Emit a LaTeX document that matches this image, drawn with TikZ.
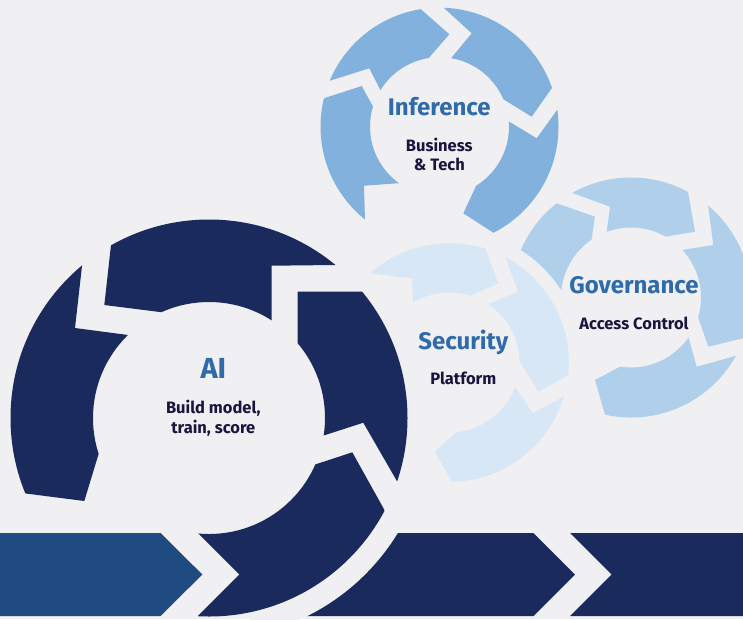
\documentclass[tikz,border=0pt]{standalone}
\usepackage{fontspec}
\setmainfont{Fira Sans}
\usetikzlibrary{calc}
\definecolor{bg}{HTML}{F0F0F2}
\definecolor{navy}{HTML}{1A2A5D}
\definecolor{barblue}{HTML}{204A82}
\definecolor{infcol}{HTML}{81B1DC}
\definecolor{govcol}{HTML}{B0CFEB}
\definecolor{seccol}{HTML}{D7E7F5}
\definecolor{titleblue}{HTML}{2F6BAA}
\definecolor{subcol}{HTML}{1B1440}
\tikzset{
  title/.style={anchor=base, text=titleblue, font=\fontsize{24}{28}\selectfont\bfseries, inner sep=0pt},
  bigtitle/.style={anchor=base, text=titleblue, font=\fontsize{29}{34}\selectfont\bfseries, inner sep=0pt},
  sub/.style={anchor=base, text=subcol, font=\fontsize{16.5}{20}\selectfont\bfseries, inner sep=0pt},
}
% #1 centre, #2 outer A, #3 corner A, #4 inner A, #5 inner B, #6 corner B, #7 outer B
\newcommand\ringseg[7]{%
  \begin{scope}
    \coordinate (rsC) at (#1);
    \clip ($(#3)!1.6!(#2)$) -- (#3) -- ($(#3)!1.5!(#4)$) -- (rsC)
      -- ($(#6)!1.5!(#5)$) -- (#6) -- ($(#6)!1.6!(#7)$)
      -- ($(rsC)!2.2!(#7)$) -- ($(rsC)!2.2!(#2)$) -- cycle;
    \fill[fill=\rscol, even odd rule] (rsC) circle[radius=\rout] (rsC) circle[radius=\rin];
  \end{scope}}
\begin{document}
\begin{tikzpicture}[x=1pt,y=-1pt]
\useasboundingbox (0,0) rectangle (743,619);
\fill[bg] (0,0) rectangle (743,619);
\clip (0,0) rectangle (743,619);

% bottom bars
\fill[barblue] (0,533) -- (160.6,533) -- (202.3,574.5) -- (160.6,616) -- (0,616) -- cycle;
\fill[navy] (300,533) -- (533.5,533) -- (575,574.5) -- (533.5,616) -- (300,616) -- cycle;
\fill[navy] (570,533) -- (743,533) -- (743,616) -- (570,616) -- (611.7,574.5) -- cycle;
\begin{scope}
  \clip (250,520) rectangle (743,619);
  \fill[bg] (209,418) circle[radius=221pt];
\end{scope}

% Governance ring
\def\rscol{govcol}\def\rin{70pt}\def\rout{120pt}
\ringseg{631,297.5}{573.3,193.3}{610,206.7}{606.7,231.7}{665,236.7}{695,231.7}{688.3,193.3}
\ringseg{631,297.5}{708.3,206.7}{713.3,245}{681.7,250}{696.7,313.3}{708.3,346.7}{743.7,338.1}
\ringseg{631,297.5}{732.7,356.7}{696.7,366.7}{688.3,336.7}{620,366.7}{595,380}{605,415}
\ringseg{631,297.5}{522.2,348.2}{544.9,337.6}{567.6,327.1}{591.7,238.3}{595,216.7}{556.7,203.3}

% halo round the Security ring
\fill[bg] (449.5,362.5) circle[radius=133pt];

% Security ring
\def\rscol{seccol}\def\rin{70pt}\def\rout{119.3pt}
\ringseg{449.5,362.5}{370,273.3}{411.7,278.3}{413.3,301.7}{471.7,295}{498.3,283.3}{485,247.7}
\ringseg{449.5,362.5}{505,256.7}{518.3,291.7}{490,303.3}{520,361.7}{538.3,391.7}{568.3,375}
\ringseg{449.5,362.5}{563.3,396.7}{532.7,413.3}{515,386.7}{456.7,431.7}{435,451.7}{451.7,481.7}

% Inference ring
\def\rscol{infcol}\def\rin{69.5pt}\def\rout{119pt}
\ringseg{439.5,126.7}{329,81}{369.3,68.3}{380,89.3}{429,57.7}{449.3,34.3}{421,9.3}
\ringseg{439.5,126.7}{444.3,8.3}{471.7,33.3}{451,58.3}{501.7,98.3}{531.7,116.7}{551.7,88.3}
\ringseg{439.5,126.7}{558.3,108.3}{536.7,138.3}{509.3,121.7}{475.7,186.7}{463.3,213.3}{494.3,233.3}
\ringseg{439.5,126.7}{365,220.7}{364,185.7}{397.3,183.3}{372.7,106}{361.7,86}{322.7,98.7}

% AI ring
\def\rscol{navy}\def\rin{116pt}\def\rout{198.5pt}
\ringseg{209,418}{335,265}{271.7,265.7}{271.7,320}{162.3,312.3}{104.3,305}{111,245}
\ringseg{209,418}{397.3,481.7}{363.3,422.7}{324.3,435.3}{297.7,343.3}{297.7,291.7}{361.7,291.7}
\ringseg{209,418}{197.8,616}{239.3,574.5}{197.8,533}{315.7,464.3}{352.3,452.3}{385,511}
\ringseg{209,418}{82,266}{75,328}{128,335}{98.3,455}{84.3,501}{24.3,493.3}

% texts
\node[bigtitle] (ai) at (213.3,378.3) {AI};
\node[sub] (ai1) at (213.3,413.3) {Build model,};
\node[sub] (ai2) at (213.3,433.3) {train, score};
\node[title] (inf) at (439.3,115) {Inference};
\node[sub] (inf1) at (439.3,151.7) {Business};
\node[sub] (inf2) at (439.3,170.7) {\& Tech};
\node[title] (sec) at (463.3,349) {Security};
\node[sub] (sec1) at (463.3,384) {Platform};
\node[title] (gov) at (634,293.3) {Governance};
\node[sub] (gov1) at (634,329) {Access Control};
\end{tikzpicture}
\end{document}
